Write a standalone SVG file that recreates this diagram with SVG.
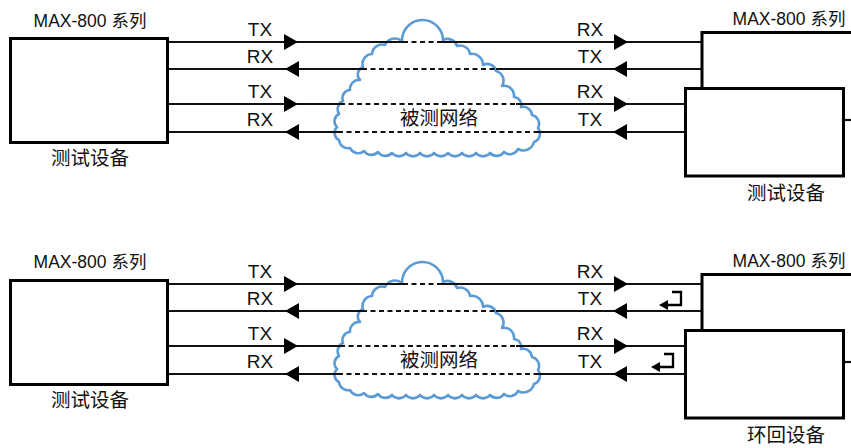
<svg xmlns="http://www.w3.org/2000/svg" xmlns:xlink="http://www.w3.org/1999/xlink" width="851" height="448" viewBox="0 0 851 448">
<style>
.box{fill:#fff;stroke:#000;stroke-width:3}
.edge{fill:none;stroke:#000;stroke-width:3}
.ln{fill:none;stroke:#111;stroke-width:2.2}
.dash{fill:none;stroke:#111;stroke-width:2;stroke-dasharray:5 3.5}
.cloud{fill:#fff;stroke:#5b9bd5;stroke-width:2.6;stroke-linejoin:round}
.ah{fill:#000}
.lb{font-family:"Liberation Sans","Noto Sans CJK SC",sans-serif;font-size:19px;fill:#111;text-anchor:middle}
.tt{font-family:"Liberation Sans","Noto Sans CJK SC",sans-serif;font-size:17.5px;fill:#111;text-anchor:middle}
.cn{font-family:"Noto Sans CJK SC",sans-serif;font-size:19.5px;fill:#111;text-anchor:middle}
.lp{fill:none;stroke:#000;stroke-width:2.3}
</style>
<defs>
<path id="cloudShape" class="cloud" d="M402,41 A20.5,20.5 0 0 1 443,40 A10,10 0 0 1 457,46 A10,10 0 0 1 470,54 A11,11 0 0 1 483,65 A9,9 0 0 1 496,71 A10,10 0 0 1 502,86 A10,10 0 0 1 514,97 A8,8 0 0 1 521,107 A9,9 0 0 1 532,115 A9,9 0 0 1 538,128 A9,9 0 0 1 534,142 A11,11 0 0 1 518,149 A9,9 0 0 1 504,152 A9,9 0 0 1 490,153 A9,9 0 0 1 476,153 A9,9 0 0 1 462,153 A9,9 0 0 1 448,153 A9,9 0 0 1 434,153 A9,9 0 0 1 420,153 A9,9 0 0 1 406,153 A9,9 0 0 1 392,153 A9,9 0 0 1 378,152 A9,9 0 0 1 364,151 A9,9 0 0 1 350,148 A9,9 0 0 1 339,140 A8,8 0 0 1 337,127 A8,8 0 0 1 339,114 A9,9 0 0 1 343,101 A8,8 0 0 1 350,90 A9,9 0 0 1 360,80 A8,8 0 0 1 363,67 A10,10 0 0 1 372,54 A10,10 0 0 1 385,45 A11,11 0 0 1 402,41 Z"/>
<path id="arR" class="ah" d="M0,0 L-14,-8 L-14,8 Z"/>
<path id="arL" class="ah" d="M0,0 L14,-8 L14,8 Z"/>
<g id="loop">
<path class="lp" d="M0,0 H9 V13 H-5"/>
<path class="ah" d="M-13,13 L-4,8 L-4,18 Z"/>
</g>
</defs>

<!-- clouds (network under test) -->
<g id="cloud-top">
<use xlink:href="#cloudShape"/>
</g>
<g id="cloud-bottom">
<use xlink:href="#cloudShape" transform="translate(0,242)"/>
</g>

<!-- connectors -->
<g id="connectors">
<g id="conn-top">
<path class="ln" d="M169,42 H403 M442,42 H702 M169,69 H362 M496,69 H702 M169,104 H340 M516,104 H685 M169,132 H338 M537,132 H685"/>
<path class="dash" d="M403,42 H442 M362,69 H496 M340,104 H516 M338,132 H537"/>
<use xlink:href="#arR" x="298" y="42"/>
<use xlink:href="#arL" x="285" y="69"/>
<use xlink:href="#arR" x="298" y="104"/>
<use xlink:href="#arL" x="285" y="132"/>
<use xlink:href="#arR" x="628" y="42"/>
<use xlink:href="#arL" x="613" y="69"/>
<use xlink:href="#arR" x="628" y="104"/>
<use xlink:href="#arL" x="613" y="132"/>
<text class="lb" x="260" y="36">TX</text>
<text class="lb" x="260" y="63">RX</text>
<text class="lb" x="260" y="98">TX</text>
<text class="lb" x="260" y="126">RX</text>
<text class="lb" x="590" y="36">RX</text>
<text class="lb" x="590" y="63">TX</text>
<text class="lb" x="590" y="98">RX</text>
<text class="lb" x="590" y="126">TX</text>
</g>
<g id="conn-bottom">
<path class="ln" d="M169,284 H403 M442,284 H702 M169,311 H362 M496,311 H702 M169,346 H340 M516,346 H685 M169,374 H338 M537,374 H685"/>
<path class="dash" d="M403,284 H442 M362,311 H496 M340,346 H516 M338,374 H537"/>
<use xlink:href="#arR" x="298" y="284"/>
<use xlink:href="#arL" x="285" y="311"/>
<use xlink:href="#arR" x="298" y="346"/>
<use xlink:href="#arL" x="285" y="374"/>
<use xlink:href="#arR" x="628" y="284"/>
<use xlink:href="#arL" x="613" y="311"/>
<use xlink:href="#arR" x="628" y="346"/>
<use xlink:href="#arL" x="613" y="374"/>
<text class="lb" x="260" y="278">TX</text>
<text class="lb" x="260" y="305">RX</text>
<text class="lb" x="260" y="340">TX</text>
<text class="lb" x="260" y="368">RX</text>
<text class="lb" x="590" y="278">RX</text>
<text class="lb" x="590" y="305">TX</text>
<text class="lb" x="590" y="340">RX</text>
<text class="lb" x="590" y="368">TX</text>
<use xlink:href="#loop" transform="translate(672,292)"/>
<use xlink:href="#loop" transform="translate(664,354)"/>
</g>
</g>

<g id="cloud-labels">
<text class="cn" x="439" y="125">被测网络</text>
<text class="cn" x="439" y="367">被测网络</text>
</g>

<!-- top left tester -->
<g id="tester-left-top">
<rect class="box" x="10.5" y="38.5" width="157" height="104"/>
<text class="tt" x="90" y="27">MAX-800 系列</text>
<text class="cn" x="90" y="165">测试设备</text>
</g>

<!-- top right tester -->
<g id="tester-right-top">
<path class="edge" d="M702,88 V32.5 H851"/>
<rect class="box" x="685.5" y="88.5" width="158" height="87.5"/>
<path class="ln" d="M845,120 H851"/>
<text class="tt" x="789" y="25">MAX-800 系列</text>
<text class="cn" x="786" y="200">测试设备</text>
</g>

<!-- bottom left tester -->
<g id="tester-left-bottom">
<rect class="box" x="10.5" y="280.5" width="157" height="104"/>
<text class="tt" x="90" y="268">MAX-800 系列</text>
<text class="cn" x="90" y="407">测试设备</text>
</g>

<!-- bottom right loopback -->
<g id="loopback-right-bottom">
<path class="edge" d="M702,330 V274.5 H851"/>
<rect class="box" x="685.5" y="330.5" width="158" height="87.5"/>
<path class="ln" d="M845,362 H851"/>
<text class="tt" x="789" y="267">MAX-800 系列</text>
<text class="cn" x="786" y="442">环回设备</text>
</g>
</svg>
